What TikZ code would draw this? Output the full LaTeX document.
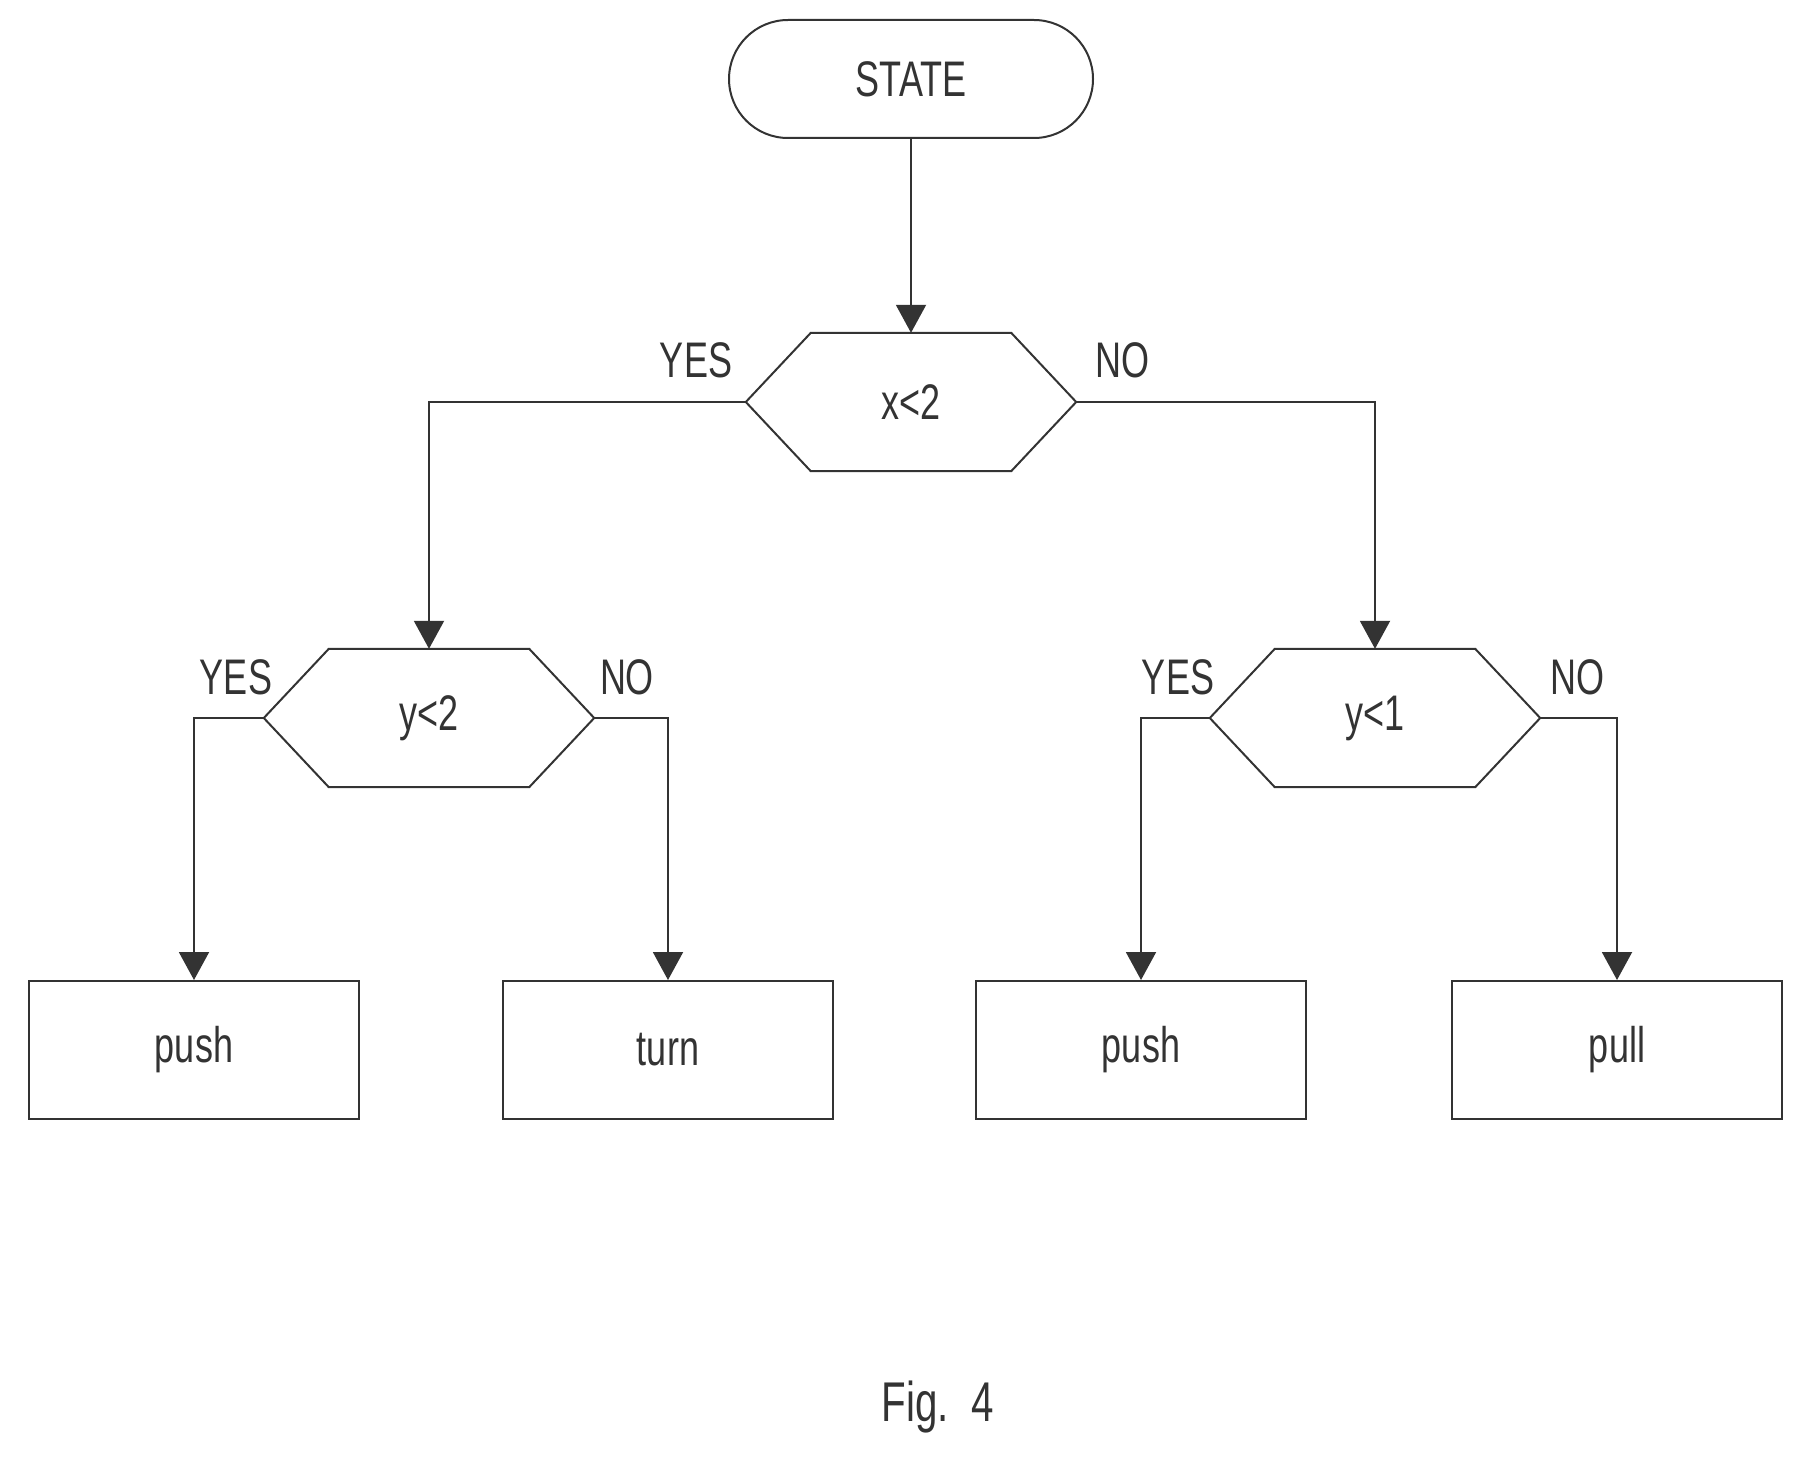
\documentclass[tikz,border=0pt]{standalone}
\usepackage{fontspec}
\setmainfont[FakeStretch=0.72]{Liberation Sans}
\usetikzlibrary{arrows.meta,calc}
\begin{document}
\begin{tikzpicture}[x=1pt,y=-1pt,
  ln/.style={draw=black!80,line width=2pt},
  arr/.style={ln,-{Triangle[width=30pt,length=28pt]}},
  txt/.style={font=\fontsize{50}{56}\selectfont,text=black!80},
  box/.style={ln,rectangle,minimum width=330pt,minimum height=138pt,inner sep=0pt,txt},
  hexb/.style={rectangle,minimum width=330pt,minimum height=138pt,inner sep=0pt,txt},
  lab/.style={txt,inner sep=0pt}]
\useasboundingbox (0,0) rectangle (1805,1461);
\node[ln,rounded corners=59pt,minimum width=364pt,minimum height=118pt,inner sep=0pt,txt] (state) at (911,79) {STATE};
\node[hexb] (h1) at (911,402) {x<2};
\node[hexb] (h2) at (429,718) {y<2};
\node[hexb] (h3) at (1375,718) {y<1};
\foreach \h in {h1,h2,h3}{
  \draw[ln] (\h.west) -- ($(\h.north west)+(65,0)$) -- ($(\h.north east)+(-65,0)$) -- (\h.east)
    -- ($(\h.south east)+(-65,0)$) -- ($(\h.south west)+(65,0)$) -- cycle;}
\node[box] (b1) at (194,1050) {push};
\node[box] (b2) at (668,1050) {turn};
\node[box] (b3) at (1141,1050) {push};
\node[box] (b4) at (1617,1050) {pull};
\draw[arr] (state.south) -- (h1.north);
\draw[arr] (h1.west) -| (h2.north);
\draw[arr] (h1.east) -| (h3.north);
\draw[arr] (h2.west) -| (b1.north);
\draw[arr] (h2.east) -| (b2.north);
\draw[arr] (h3.west) -| (b3.north);
\draw[arr] (h3.east) -| (b4.north);
\node[lab] (l1) at (696,360) {YES};
\node[lab] (l2) at (1122,360) {NO};
\node[lab] (l3) at (236,677) {YES};
\node[lab] (l4) at (627,677) {NO};
\node[lab] (l5) at (1178,677) {YES};
\node[lab] (l6) at (1577,677) {NO};
\node[lab,font=\fontsize{56}{60}\selectfont] (fig) at (938,1407) {Fig.\ \ 4};
\end{tikzpicture}
\end{document}
